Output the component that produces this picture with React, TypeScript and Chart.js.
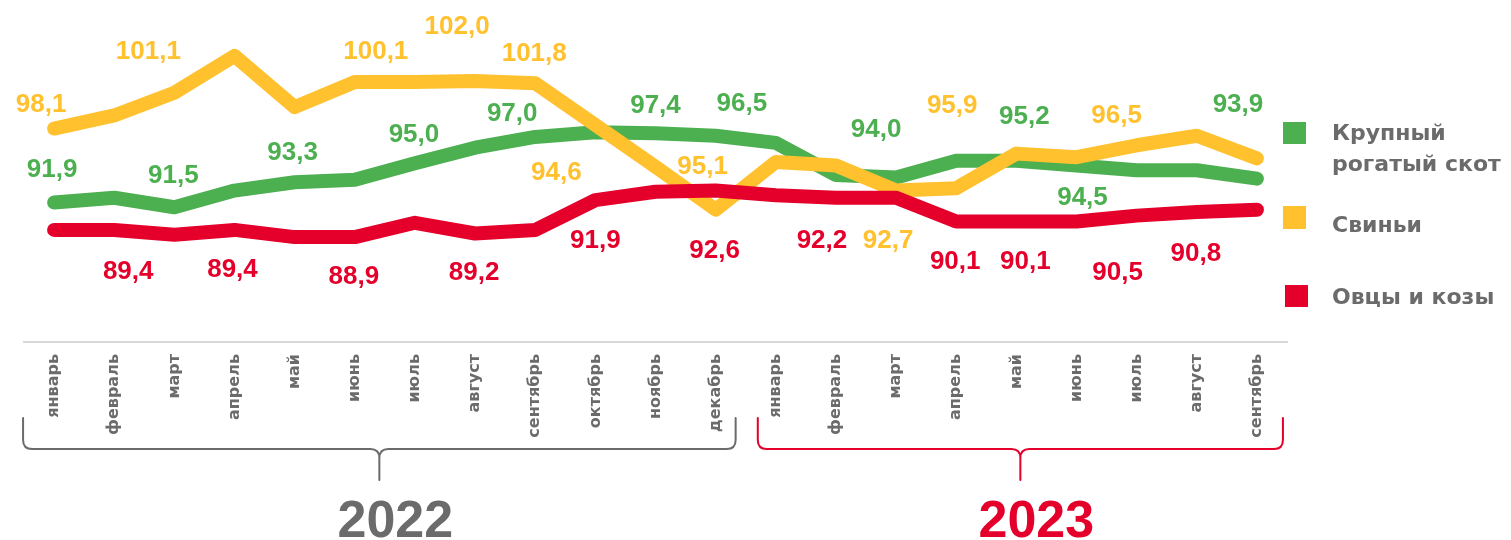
import { useEffect, useRef } from "react";
import { Chart, registerables } from "chart.js";

Chart.register(...registerables);

// ---- data ----
const months = [
  "январь", "февраль", "март", "апрель", "май", "июнь", "июль", "август", "сентябрь", "октябрь", "ноябрь", "декабрь",
  "январь", "февраль", "март", "апрель", "май", "июнь", "июль", "август", "сентябрь",
];
const years = ["2022", "2023"];
const yearFirst = [0, 12];
const yearLast = [11, 20];

const seriesNames = ["Крупный рогатый скот", "Свиньи", "Овцы и козы"];

const cattle = [91.9, 92.3, 91.5, 92.9, 93.6, 93.8, 95.2, 96.5, 97.4, 97.8, 97.7, 97.5, 96.9, 94.2, 94.0, 95.4, 95.4, 95.0, 94.6, 94.6, 93.9];
const pigs = [98.1, 99.2, 101.1, 104.2, 99.9, 102.0, 102.0, 102.1, 101.9, 98.4, 94.9, 91.3, 95.3, 95.0, 92.9, 93.1, 96.0, 95.7, 96.7, 97.5, 95.6];
const sheep = [89.6, 89.6, 89.2, 89.6, 89.0, 89.0, 90.2, 89.3, 89.6, 92.1, 92.8, 92.9, 92.5, 92.3, 92.3, 90.3, 90.3, 90.3, 90.8, 91.1, 91.3];

const cattleLabels = ["91,9", null, "91,5", null, "93,3", null, "95,0", null, "97,0", null, "97,4", null, "96,5", null, "94,0", null, "95,2", "94,5", null, null, "93,9"];
const pigLabels = ["98,1", null, "101,1", null, null, "100,1", null, "102,0", "101,8", "94,6", null, "95,1", null, null, "92,7", "95,9", null, null, "96,5", null, null];
const sheepLabels = [null, "89,4", null, "89,4", null, "88,9", null, "89,2", null, "91,9", null, "92,6", null, "92,2", null, "90,1", "90,1", null, "90,5", "90,8", null];

// ---- layout (label offsets from their point, px) ----
const cattleOffsets: Record<number, [number, number]> = {
  0: [-2, -35], 2: [-1, -34], 4: [-2, -32], 6: [-1, -31], 8: [-23, -25], 10: [0, -30],
  12: [-34, -41], 14: [-20, -50], 16: [8, -46], 17: [6, 30], 20: [-19, -76],
};
const pigOffsets: Record<number, [number, number]> = {
  0: [-13, -26], 2: [-26, -43], 5: [21, -33], 7: [-18, -56], 8: [-1, -32], 9: [-39, 45],
  11: [-13, -45], 14: [-8, 48], 15: [-4, -85], 18: [-20, -32],
};
const sheepOffsets: Record<number, [number, number]> = {
  1: [14, 40], 3: [-2, 38], 5: [-1, 37], 7: [-1, 37], 9: [0, 38], 11: [-1, 58],
  13: [-14, 41], 15: [-1, 38], 16: [9, 38], 18: [-19, 55], 19: [-1, 39],
};

const GREEN = "#4caf50";
const YELLOW = "#ffc12e";
const RED = "#e4002b";
const GRAY = "#6b6b6b";

const labelSets = [cattleLabels, pigLabels, sheepLabels];
const offsetSets = [cattleOffsets, pigOffsets, sheepOffsets];

const legendLayout = [
  { box: [1283, 122, 23, 22], lines: ["Крупный", "рогатый скот"], baselines: [140, 171] },
  { box: [1283, 206, 23, 23], lines: ["Свиньи"], baselines: [232] },
  { box: [1285, 285, 23, 22], lines: ["Овцы и козы"], baselines: [304] },
];

const dataLabelPlugin = {
  id: "dataLabels",
  afterDatasetsDraw(chart: any) {
    const ctx = chart.ctx;
    ctx.save();
    ctx.font = "bold 26px 'Liberation Sans', Arial, sans-serif";
    ctx.textAlign = "center";
    ctx.textBaseline = "alphabetic";
    chart.data.datasets.forEach((ds: any, di: number) => {
      const meta = chart.getDatasetMeta(di);
      const labels = labelSets[di];
      const offs = offsetSets[di];
      labels.forEach((t, i) => {
        if (!t) return;
        const p = meta.data[i];
        const o = offs[i] || [0, -30];
        ctx.fillStyle = ds.borderColor;
        ctx.fillText(t, p.x + o[0], p.y + o[1] + 9.5);
      });
    });
    ctx.restore();
  },
};

const decorPlugin = {
  id: "decor",
  afterDraw(chart: any) {
    const ctx = chart.ctx;
    const xs = chart.scales.x;
    ctx.save();
    // legend
    legendLayout.forEach((item, i) => {
      const ds = chart.data.datasets[i];
      ctx.fillStyle = ds.borderColor;
      ctx.fillRect(item.box[0], item.box[1], item.box[2], item.box[3]);
      ctx.fillStyle = GRAY;
      ctx.font = "bold 22px 'DejaVu Sans', sans-serif";
      ctx.textAlign = "left";
      ctx.textBaseline = "alphabetic";
      item.lines.forEach((ln, k) => ctx.fillText(ln, 1332, item.baselines[k]));
    });
    // braces + years
    const colors = [GRAY, RED];
    const leftPad = [31, 18];
    const rightPad = [20, 26];
    years.forEach((yr, k) => {
      const left = xs.getPixelForValue(yearFirst[k]) - leftPad[k];
      const right = xs.getPixelForValue(yearLast[k]) + rightPad[k];
      const mid = (left + right) / 2;
      const top = 418, bot = 449, tip = 480, r = 9;
      ctx.strokeStyle = colors[k];
      ctx.lineWidth = 2;
      ctx.lineCap = "round";
      ctx.beginPath();
      ctx.moveTo(left, top);
      ctx.lineTo(left, bot - r);
      ctx.quadraticCurveTo(left, bot, left + r, bot);
      ctx.lineTo(mid - r, bot);
      ctx.quadraticCurveTo(mid, bot, mid, bot + r);
      ctx.lineTo(mid, tip);
      ctx.moveTo(mid, bot + r);
      ctx.quadraticCurveTo(mid, bot, mid + r, bot);
      ctx.lineTo(right - r, bot);
      ctx.quadraticCurveTo(right, bot, right, bot - r);
      ctx.lineTo(right, top);
      ctx.stroke();
      ctx.fillStyle = colors[k];
      ctx.font = "bold 52px 'Liberation Sans', Arial, sans-serif";
      ctx.textAlign = "center";
      ctx.fillText(yr, mid + 16, 537);
    });
    ctx.restore();
  },
};

export default function App() {
  const ref = useRef<HTMLCanvasElement | null>(null);
  useEffect(() => {
    if (!ref.current) return;
    const common = {
      fill: false,
      pointRadius: 0,
      pointHoverRadius: 0,
      borderWidth: 14,
      borderCapStyle: "round",
      borderJoinStyle: "round",
      tension: 0,
      clip: false,
    };
    const chart = new Chart(ref.current, {
      type: "line",
      data: {
        labels: months,
        datasets: [
          { ...common, label: seriesNames[0], data: cattle, borderColor: GREEN, backgroundColor: GREEN, order: 3 },
          { ...common, label: seriesNames[1], data: pigs, borderColor: YELLOW, backgroundColor: YELLOW, order: 2 },
          { ...common, label: seriesNames[2], data: sheep, borderColor: RED, backgroundColor: RED, order: 1 },
        ] as any,
      },
      options: {
        animation: false,
        responsive: false,
        events: [],
        layout: { padding: { left: 24, right: 224, top: 32, bottom: 0 } },
        plugins: { legend: { display: false }, tooltip: { enabled: false } },
        scales: {
          x: {
            offset: true,
            grid: { display: false, drawTicks: false },
            border: { display: true, color: "#d9d9d9", width: 2 },
            ticks: {
              autoSkip: false,
              minRotation: 90,
              maxRotation: 90,
              padding: 12,
              color: GRAY,
              font: { family: "'DejaVu Sans', sans-serif", size: 16, weight: "bold" },
            },
            afterFit(scale: any) {
              scale.height = 198;
            },
          },
          y: {
            display: false,
            min: 80.2,
            max: 106.2,
          },
        },
      } as any,
      plugins: [dataLabelPlugin, decorPlugin],
    });
    return () => chart.destroy();
  }, []);
  return (
    <div style={{ position: "fixed", left: 0, top: 0, width: 1511, height: 540, background: "#fff" }}>
      <canvas ref={ref} width={1511} height={540} style={{ display: "block" }} />
    </div>
  );
}
